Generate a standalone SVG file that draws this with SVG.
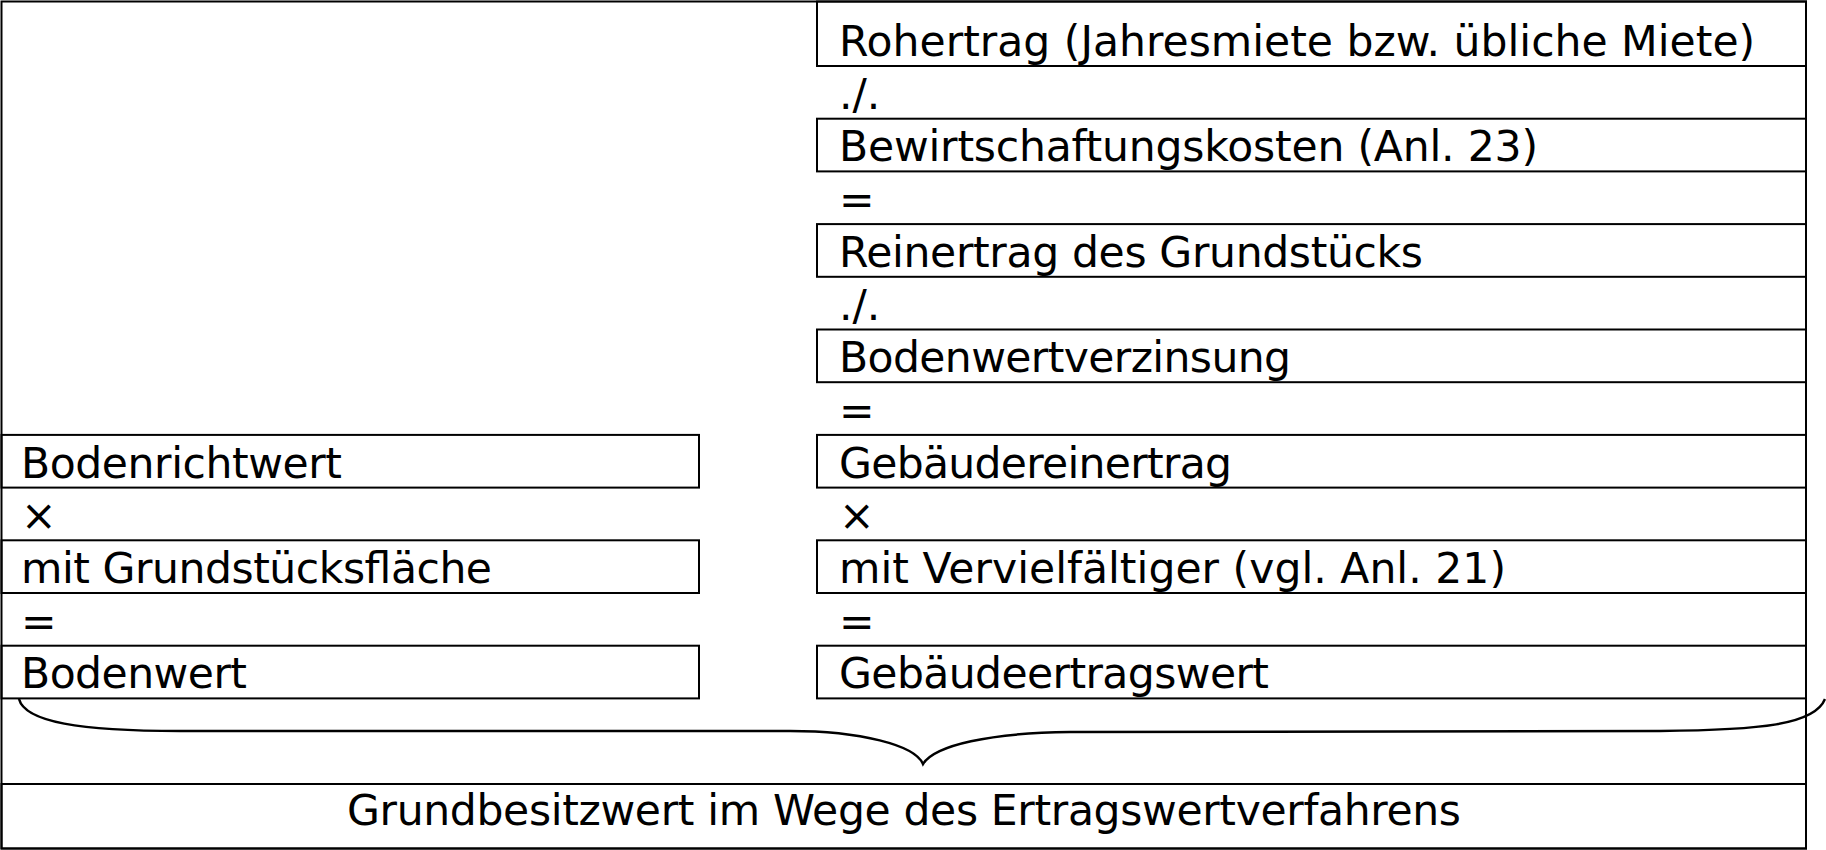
<svg xmlns="http://www.w3.org/2000/svg" width="1826" height="850" viewBox="0 0 1826 850">
<style>
  .box { fill: none; stroke: #000; stroke-width: 2; }
  .t { font-family: "DejaVu Sans", Verdana, sans-serif; font-size: 42.5px; fill: #000; }
  .brace { fill: none; stroke: #000; stroke-width: 2.5; }
</style>
<rect width="1826" height="850" fill="#fff"/>
<g id="frame">
  <rect class="box" x="1.5" y="1.5" width="1804.5" height="847"/>
</g>
<g id="right-column">
  <g id="rohertrag"><rect class="box" x="817" y="1.5" width="989" height="64.5"/><text class="t" x="839" y="56">Rohertrag (Jahresmiete bzw. übliche Miete)</text></g>
  <g id="op-r1"><text class="t" x="839" y="108.7">./.</text></g>
  <g id="bewirtschaftungskosten"><rect class="box" x="817" y="118.7" width="989" height="52.7"/><text class="t" x="839" y="161.4" textLength="699" lengthAdjust="spacing">Bewirtschaftungskosten (Anl. 23)</text></g>
  <g id="op-r3"><text class="t" x="839" y="214.1">=</text></g>
  <g id="reinertrag"><rect class="box" x="817" y="224.1" width="989" height="52.7"/><text class="t" x="839" y="266.8" textLength="584" lengthAdjust="spacing">Reinertrag des Grundstücks</text></g>
  <g id="op-r5"><text class="t" x="839" y="319.5">./.</text></g>
  <g id="bodenwertverzinsung"><rect class="box" x="817" y="329.5" width="989" height="52.7"/><text class="t" x="839" y="372.2" textLength="452" lengthAdjust="spacing">Bodenwertverzinsung</text></g>
  <g id="op-r7"><text class="t" x="839" y="424.9">=</text></g>
  <g id="gebaeudereinertrag"><rect class="box" x="817" y="434.9" width="989" height="52.7"/><text class="t" x="839" y="477.6" textLength="393" lengthAdjust="spacing">Gebäudereinertrag</text></g>
  <g id="op-r9"><text class="t" x="839" y="530.3">×</text></g>
  <g id="vervielfaeltiger"><rect class="box" x="817" y="540.3" width="989" height="52.7"/><text class="t" x="839" y="583" textLength="667" lengthAdjust="spacing">mit Vervielfältiger (vgl. Anl. 21)</text></g>
  <g id="op-r11"><text class="t" x="839" y="635.7">=</text></g>
  <g id="gebaeudeertragswert"><rect class="box" x="817" y="645.7" width="989" height="52.7"/><text class="t" x="839" y="688.4" textLength="430" lengthAdjust="spacing">Gebäudeertragswert</text></g>
</g>
<g id="left-column">
  <g id="bodenrichtwert"><rect class="box" x="1.5" y="434.9" width="697.5" height="52.7"/><text class="t" x="21" y="477.6" textLength="321" lengthAdjust="spacing">Bodenrichtwert</text></g>
  <g id="op-l9"><text class="t" x="21" y="530.3">×</text></g>
  <g id="grundstuecksflaeche"><rect class="box" x="1.5" y="540.3" width="697.5" height="52.7"/><text class="t" x="21" y="583" textLength="471" lengthAdjust="spacing">mit Grundstücksfläche</text></g>
  <g id="op-l11"><text class="t" x="21" y="635.7">=</text></g>
  <g id="bodenwert"><rect class="box" x="1.5" y="645.7" width="697.5" height="52.7"/><text class="t" x="21" y="688.4" textLength="226" lengthAdjust="spacing">Bodenwert</text></g>
</g>
<g id="grundbesitzwert">
  <rect class="box" x="1.5" y="784" width="1804.5" height="64.5"/>
  <text class="t" x="904" y="825" text-anchor="middle" textLength="1114" lengthAdjust="spacing">Grundbesitzwert im Wege des Ertragswertverfahrens</text>
</g>
<g id="connectors">
  <path class="brace" d="M 19 699 C 25 722, 80 731, 180 731 L 790 731 C 860 731, 915 745, 923 764 C 935 745, 990 733, 1070 732 L 1660 731 C 1760 730, 1815 725, 1825 699"/>
</g>
</svg>
